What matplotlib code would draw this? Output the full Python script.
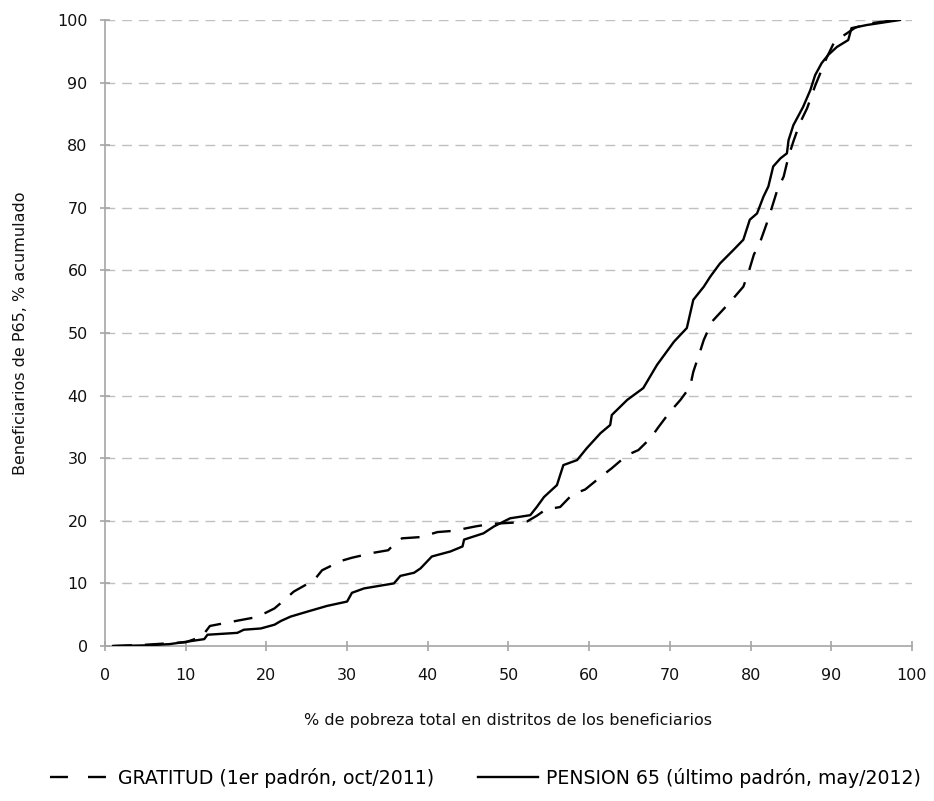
import matplotlib
matplotlib.use('Agg')
import matplotlib.pyplot as plt
from matplotlib.lines import Line2D

# Curva GRATITUD (1er padron, oct/2011)
grat_x = [1, 5, 10, 12, 13, 15.8, 18.3, 19.9, 21, 22.0, 23.4, 24.5, 25.9, 26.9, 28, 29, 30.6,
          33.3, 35.1, 36, 36.8, 39.1, 41.2, 43.2, 45.9, 47.8, 50.5, 52.3, 53.5, 54.6, 56.4,
          57.9, 59.5, 61.4, 62.8, 64.7, 66.1, 67.6, 68.6, 70.0, 71.3, 72.5, 72.9, 73.6, 74.2,
          75.2, 77.5, 79.1, 79.7, 80.4, 81.2, 82.0, 82.6, 83.3, 84.1, 84.7, 85.3, 86.1, 87.0,
          88.0, 89.4, 90.3, 91.5, 93, 95, 98]
grat_y = [0, 0.2, 0.6, 1.5, 3.2, 3.9, 4.5, 5.3, 6, 7.1, 8.7, 9.5, 10.5, 12.1, 12.8, 13.5, 14.1,
          14.9, 15.3, 16.5, 17.2, 17.4, 18.2, 18.4, 19.1, 19.5, 19.7, 19.9, 20.8, 21.8, 22.2,
          24.2, 25.0, 27.0, 28.4, 30.5, 31.3, 33.2, 35.0, 37.4, 39.3, 41.4, 43.8, 46.5, 48.9,
          51.8, 55.0, 57.4, 59.5, 62.5, 64.6, 67.5, 69.9, 72.8, 75.0, 78.2, 80.6, 83.5, 85.9,
          89.5, 93.9, 96.3, 97.5, 98.8, 99.5, 100]

# Curva PENSION 65 (ultimo padron, may/2012)
p65_x = [1, 5, 8, 10.2, 12.3, 12.7, 16.4, 17.2, 19.3, 21, 21.8, 23, 25.1, 27.5, 30, 30.6, 32.1,
         35.8, 36.6, 38.3, 39.1, 40.5, 42.8, 44.3, 44.5, 46.9, 48.2, 50.2, 52.7, 53.5, 54.4,
         56.0, 56.8, 58.5, 59.7, 61.4, 62.6, 62.8, 64.7, 66.7, 68.4, 70.5, 72.1, 72.9, 74.2,
         75.0, 76.2, 77.9, 79.1, 79.9, 80.8, 81.6, 82.2, 82.8, 83.7, 84.5, 84.7, 85.3, 86.5,
         87.4, 88.0, 88.8, 89.6, 90.7, 92.1, 92.5, 94.4, 98.5]
p65_y = [0, 0.1, 0.3, 0.7, 1.1, 1.8, 2.1, 2.6, 2.8, 3.4, 4.0, 4.7, 5.5, 6.4, 7.1, 8.5, 9.2,
         10.0, 11.2, 11.7, 12.4, 14.3, 15.1, 15.9, 17.0, 18.0, 19.1, 20.4, 20.9, 22.2, 23.8,
         25.7, 28.9, 29.7, 31.6, 34.0, 35.3, 36.9, 39.3, 41.2, 44.9, 48.6, 50.8, 55.3, 57.4,
         59.0, 61.1, 63.3, 64.9, 68.1, 69.1, 71.8, 73.4, 76.6, 77.9, 78.7, 80.8, 83.2, 86.1,
         88.8, 91.2, 93.1, 94.4, 95.7, 96.8, 98.7, 99.2, 100]

labels = ['GRATITUD (1er padrón, oct/2011)', 'PENSION 65 (último padrón, may/2012)']
ticks = list(range(0, 101, 10))

fig = plt.figure(figsize=(9.34, 8.01), dpi=100)
ax = fig.add_axes([105 / 934, 1 - 646 / 801, (912 - 105) / 934, (646 - 20) / 801])

gray = '#a6a6a6'

# lineas de grilla horizontales punteadas
for t in ticks[1:]:
    ax.axhline(t, color='#c0c0c0', lw=1.0, dashes=(7, 5), zorder=1)

ax.plot(grat_x, grat_y, color='black', lw=1.7, dashes=(8, 5.5), zorder=3)
ax.plot(p65_x, p65_y, color='black', lw=1.7, zorder=3)

ax.set_xlim(0, 100)
ax.set_ylim(0, 100)
ax.set_xticks(ticks)
ax.set_yticks(ticks)

for s in ['top', 'right']:
    ax.spines[s].set_visible(False)
for s in ['left', 'bottom']:
    ax.spines[s].set_color(gray)
    ax.spines[s].set_linewidth(1.2)

ax.tick_params(axis='both', direction='inout', length=7, width=1.2, color=gray,
               labelsize=11.5, labelcolor='#111111')
ax.tick_params(axis='y', pad=9)
ax.tick_params(axis='x', pad=12)

ax.set_xlabel('% de pobreza total en distritos de los beneficiarios', fontsize=11.5,
              labelpad=22, color='#111111')
ax.set_ylabel('Beneficiarios de P65, % acumulado', fontsize=11.5, labelpad=21,
              color='#111111')

# muestras de la leyenda (guiones mas espaciados, como en el original)
handles = [Line2D([], [], color='black', lw=1.7, dashes=(7.6, 8.5)),
           Line2D([], [], color='black', lw=1.7)]
fig.legend(handles, labels, loc='center', bbox_to_anchor=(0.520, 1 - 778 / 801), ncol=2,
           frameon=False, fontsize=13.6, handlelength=3.2, handletextpad=0.4,
           columnspacing=2.3)

fig.savefig('out.png', dpi=100)
